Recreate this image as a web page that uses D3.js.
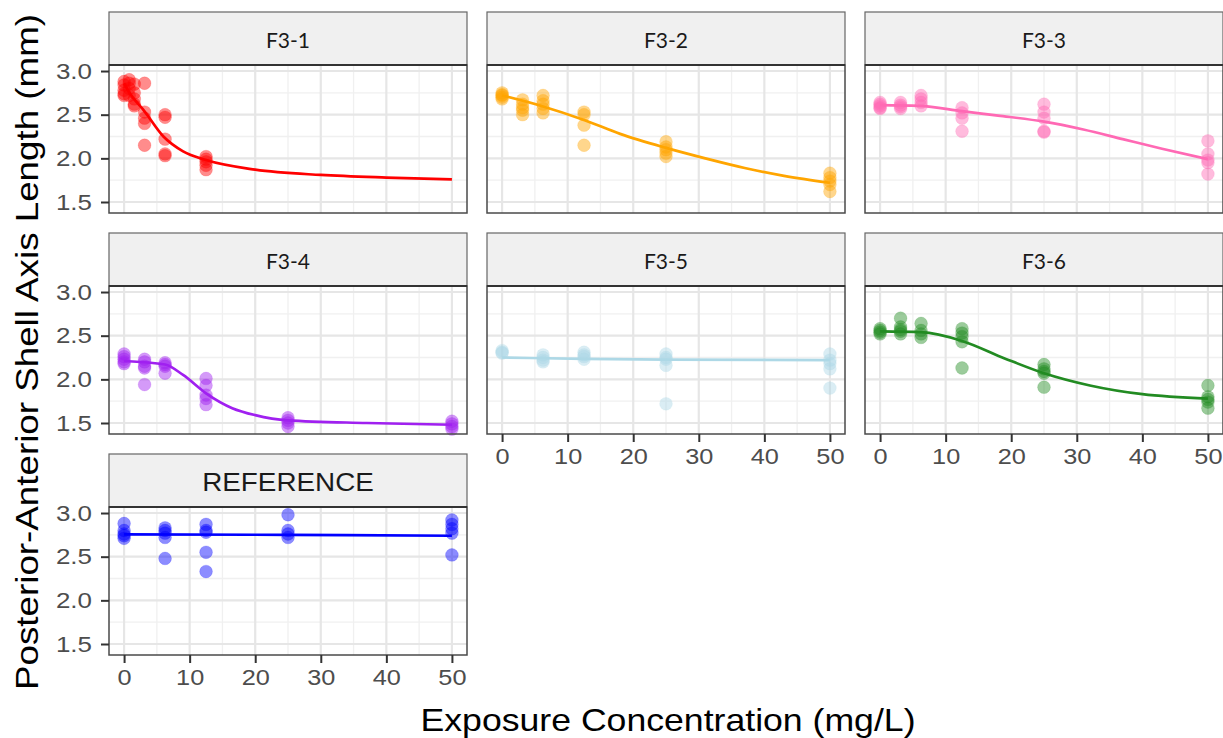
<!DOCTYPE html>
<html>
<head>
<meta charset="utf-8">
<script src="https://cdn.jsdelivr.net/npm/d3@7"></script>
<style>
  html, body { margin: 0; padding: 0; background: #fff; }
  svg { display: block; }
</style>
</head>
<body>
<svg id="chart" width="1223" height="738"></svg>
<script>
// ---------------- DATA ----------------
const panelNames = ["F3-1", "F3-2", "F3-3", "F3-4", "F3-5", "F3-6", "REFERENCE"];
const panelColors = ["#ff0000", "#ffa500", "#ff69b4", "#a020f0", "#add8e6", "#228b22", "#0000ff"];

const xTicks = [0, 10, 20, 30, 40, 50];
const xMinor = [5, 15, 25, 35, 45];
const yTicks = [1.5, 2.0, 2.5, 3.0];
const yMinor = [1.75, 2.25, 2.75];
const yTickLabels = ["1.5", "2.0", "2.5", "3.0"];

// observed points [concentration, length]
const obsF31 = [
  [0, 2.88], [0, 2.84], [0, 2.78], [0, 2.74], [0, 2.72],
  [0.78, 2.90], [0.78, 2.86], [0.78, 2.80], [0.78, 2.72],
  [1.56, 2.85], [1.56, 2.75], [1.56, 2.68], [1.56, 2.62], [1.56, 2.60],
  [3.125, 2.86], [3.125, 2.53], [3.125, 2.46], [3.125, 2.40], [3.125, 2.15],
  [6.25, 2.50], [6.25, 2.47], [6.25, 2.22], [6.25, 2.05], [6.25, 2.03],
  [12.5, 2.02], [12.5, 1.99], [12.5, 1.96], [12.5, 1.92], [12.5, 1.87]
];
const obsF32 = [
  [0, 2.75], [0, 2.73], [0, 2.72], [0, 2.70], [0, 2.68],
  [3.125, 2.67], [3.125, 2.62], [3.125, 2.58], [3.125, 2.55], [3.125, 2.50],
  [6.25, 2.72], [6.25, 2.66], [6.25, 2.62], [6.25, 2.57], [6.25, 2.52],
  [12.5, 2.53], [12.5, 2.50], [12.5, 2.38], [12.5, 2.15],
  [25, 2.19], [25, 2.13], [25, 2.10], [25, 2.06], [25, 2.02],
  [50, 1.83], [50, 1.78], [50, 1.74], [50, 1.70], [50, 1.62]
];
const obsF33 = [
  [0, 2.64], [0, 2.62], [0, 2.60], [0, 2.58], [0, 2.57],
  [3.125, 2.64], [3.125, 2.61], [3.125, 2.59], [3.125, 2.57],
  [6.25, 2.72], [6.25, 2.68], [6.25, 2.64], [6.25, 2.60],
  [12.5, 2.58], [12.5, 2.52], [12.5, 2.46], [12.5, 2.31],
  [25, 2.62], [25, 2.53], [25, 2.46], [25, 2.31], [25, 2.30],
  [50, 2.20], [50, 2.05], [50, 1.98], [50, 1.95], [50, 1.82]
];
const obsF34 = [
  [0, 2.29], [0, 2.26], [0, 2.23], [0, 2.20], [0, 2.18],
  [3.125, 2.23], [3.125, 2.20], [3.125, 2.15], [3.125, 2.13], [3.125, 1.94],
  [6.25, 2.19], [6.25, 2.17], [6.25, 2.15], [6.25, 2.07],
  [12.5, 2.01], [12.5, 1.93], [12.5, 1.82], [12.5, 1.78], [12.5, 1.71],
  [25, 1.56], [25, 1.53], [25, 1.50], [25, 1.46],
  [50, 1.52], [50, 1.49], [50, 1.46], [50, 1.43]
];
const obsF35 = [
  [0, 2.33], [0, 2.31], [0, 2.30],
  [6.25, 2.28], [6.25, 2.25], [6.25, 2.22], [6.25, 2.20],
  [12.5, 2.31], [12.5, 2.28], [12.5, 2.26], [12.5, 2.23],
  [25, 2.29], [25, 2.25], [25, 2.23], [25, 2.16], [25, 1.72],
  [50, 2.29], [50, 2.22], [50, 2.18], [50, 2.12], [50, 1.90]
];
const obsF36 = [
  [0, 2.58], [0, 2.56], [0, 2.54], [0, 2.52],
  [3.125, 2.70], [3.125, 2.60], [3.125, 2.57], [3.125, 2.55], [3.125, 2.52],
  [6.25, 2.64], [6.25, 2.56], [6.25, 2.52], [6.25, 2.48],
  [12.5, 2.58], [12.5, 2.53], [12.5, 2.49], [12.5, 2.43], [12.5, 2.13],
  [25, 2.17], [25, 2.12], [25, 2.09], [25, 2.07], [25, 1.91],
  [50, 1.93], [50, 1.80], [50, 1.77], [50, 1.74], [50, 1.67]
];
const obsRef = [
  [0, 2.88], [0, 2.80], [0, 2.76], [0, 2.74], [0, 2.71],
  [6.25, 2.83], [6.25, 2.80], [6.25, 2.77], [6.25, 2.72], [6.25, 2.48],
  [12.5, 2.87], [12.5, 2.80], [12.5, 2.78], [12.5, 2.55], [12.5, 2.33],
  [25, 2.98], [25, 2.80], [25, 2.76], [25, 2.72],
  [50, 2.92], [50, 2.87], [50, 2.82], [50, 2.77], [50, 2.52]
];

// fitted curves [concentration, length]
const fitF31 = [[0, 2.86], [1, 2.73], [3, 2.55], [6, 2.25], [9, 2.08], [12.5, 1.98], [20, 1.87], [30, 1.81], [40, 1.78], [50, 1.76]];
const fitF32 = [[0, 2.72], [6, 2.60], [12.5, 2.44], [18, 2.28], [25, 2.12], [31, 2.00], [37, 1.89], [43, 1.80], [50, 1.72]];
const fitF33 = [[0, 2.61], [6, 2.60], [12.5, 2.54], [18, 2.49], [25, 2.42], [31, 2.33], [37, 2.22], [43, 2.11], [50, 1.99]];
const fitF34 = [[0, 2.21], [6.25, 2.17], [9, 2.05], [12.5, 1.84], [16.5, 1.67], [20, 1.59], [25, 1.53], [37, 1.50], [50, 1.48]];
const fitF35 = [[0, 2.25], [12.5, 2.235], [25, 2.225], [50, 2.22]];
const fitF36 = [[0, 2.55], [6.25, 2.54], [12.5, 2.44], [19, 2.24], [25, 2.07], [32, 1.93], [40, 1.83], [50, 1.78]];
const fitRef = [[0, 2.755], [25, 2.75], [50, 2.74]];

const observations = [obsF31, obsF32, obsF33, obsF34, obsF35, obsF36, obsRef];
const fits = [fitF31, fitF32, fitF33, fitF34, fitF35, fitF36, fitRef];

// ---------------- LAYOUT ----------------
const colX = [109, 487, 865];
const rowY = [12, 233, 454];
const panelW = 358, stripH = 53, plotH = 148;
const xDomain = [-2.3, 52.3];
const yDomain = [1.374, 3.069];

const svg = d3.select("#chart");
const sansFont = "'Liberation Sans', Arial, sans-serif";

function stretch(sel, factor) {
  sel.each(function () {
    const len = this.getComputedTextLength();
    d3.select(this).attr("textLength", len * factor).attr("lengthAdjust", "spacingAndGlyphs");
  });
}

panelNames.forEach((name, i) => {
  const col = i % 3, row = Math.floor(i / 3);
  const left = colX[col], top = rowY[row];
  const plotTop = top + stripH;
  const x = d3.scaleLinear().domain(xDomain).range([left, left + panelW]);
  const y = d3.scaleLinear().domain(yDomain).range([plotTop + plotH, plotTop]);
  const g = svg.append("g");

  g.append("rect").attr("x", left).attr("y", plotTop).attr("width", panelW).attr("height", plotH)
    .attr("fill", "#fff");

  // minor grid
  g.selectAll(".vmin").data(xMinor).enter().append("line")
    .attr("x1", d => x(d)).attr("x2", d => x(d)).attr("y1", plotTop).attr("y2", plotTop + plotH)
    .attr("stroke", "#f0f0f0").attr("stroke-width", 1.3);
  g.selectAll(".hmin").data(yMinor).enter().append("line")
    .attr("y1", d => y(d)).attr("y2", d => y(d)).attr("x1", left).attr("x2", left + panelW)
    .attr("stroke", "#f0f0f0").attr("stroke-width", 1.3);
  // major grid
  g.selectAll(".vmaj").data(xTicks).enter().append("line")
    .attr("x1", d => x(d)).attr("x2", d => x(d)).attr("y1", plotTop).attr("y2", plotTop + plotH)
    .attr("stroke", "#e6e6e6").attr("stroke-width", 2.2);
  g.selectAll(".hmaj").data(yTicks).enter().append("line")
    .attr("y1", d => y(d)).attr("y2", d => y(d)).attr("x1", left).attr("x2", left + panelW)
    .attr("stroke", "#e6e6e6").attr("stroke-width", 2.2);

  const color = panelColors[i];
  g.selectAll(".pt").data(observations[i]).enter().append("circle")
    .attr("cx", d => x(d[0])).attr("cy", d => y(d[1])).attr("r", 6.4)
    .attr("fill", color).attr("fill-opacity", 0.45)
    .attr("stroke", color).attr("stroke-opacity", 0.2).attr("stroke-width", 0.8);

  const line = d3.line().x(d => x(d[0])).y(d => y(d[1])).curve(d3.curveMonotoneX);
  g.append("path").datum(fits[i]).attr("d", line)
    .attr("fill", "none").attr("stroke", color).attr("stroke-width", 2.7);

  // panel border
  g.append("rect").attr("x", left).attr("y", plotTop).attr("width", panelW).attr("height", plotH)
    .attr("fill", "none").attr("stroke", "#4a4a4a").attr("stroke-width", 1.5);

  // strip
  g.append("rect").attr("x", left).attr("y", top).attr("width", panelW).attr("height", stripH)
    .attr("fill", "#f0f0f0").attr("stroke", "#666").attr("stroke-width", 1.2);
  g.append("line").attr("x1", left).attr("x2", left + panelW).attr("y1", plotTop).attr("y2", plotTop)
    .attr("stroke", "#333").attr("stroke-width", 2.2);
  const isRef = name === "REFERENCE";
  const st = g.append("text").attr("x", left + panelW / 2).attr("y", top + stripH / 2 + 1)
    .attr("text-anchor", "middle").attr("dominant-baseline", "central")
    .attr("font-family", isRef ? sansFont : "Lato, 'Open Sans', sans-serif")
    .attr("font-size", isRef ? 26 : 21).attr("fill", "#1a1a1a").text(name);
  if (isRef) stretch(st, 1.07);

  if (col === 0) {
    const yAxis = d3.axisLeft(y).tickValues(yTicks).tickSize(8).tickPadding(9)
      .tickFormat((d, k) => yTickLabels[k]);
    const ya = svg.append("g").attr("transform", `translate(${left},0)`).call(yAxis);
    ya.select(".domain").remove();
    ya.selectAll(".tick line").attr("stroke", "#333").attr("stroke-width", 2);
    const tt = ya.selectAll(".tick text").attr("font-family", sansFont).attr("font-size", 22).attr("fill", "#4d4d4d");
    stretch(tt, 1.18);
  }
  const bottomPanel = (col === 0 && row === 2) || (col > 0 && row === 1);
  if (bottomPanel) {
    const xAxis = d3.axisBottom(x).tickValues(xTicks).tickSize(8).tickPadding(6);
    const xa = svg.append("g").attr("transform", `translate(0,${plotTop + plotH})`).call(xAxis);
    xa.select(".domain").remove();
    xa.selectAll(".tick line").attr("stroke", "#333").attr("stroke-width", 2);
    const tt = xa.selectAll(".tick text").attr("font-family", sansFont).attr("font-size", 22).attr("fill", "#4d4d4d");
    stretch(tt, 1.15);
  }
});

// axis titles
svg.append("text").attr("x", 668).attr("y", 731).attr("text-anchor", "middle")
  .attr("font-family", sansFont).attr("font-size", 32).attr("fill", "#000")
  .attr("textLength", 495).attr("lengthAdjust", "spacingAndGlyphs")
  .text("Exposure Concentration (mg/L)");
svg.append("text").attr("transform", "translate(38,352) rotate(-90)").attr("text-anchor", "middle")
  .attr("font-family", sansFont).attr("font-size", 32).attr("fill", "#000")
  .attr("textLength", 676).attr("lengthAdjust", "spacingAndGlyphs")
  .text("Posterior-Anterior Shell Axis Length (mm)");
</script>
</body>
</html>
